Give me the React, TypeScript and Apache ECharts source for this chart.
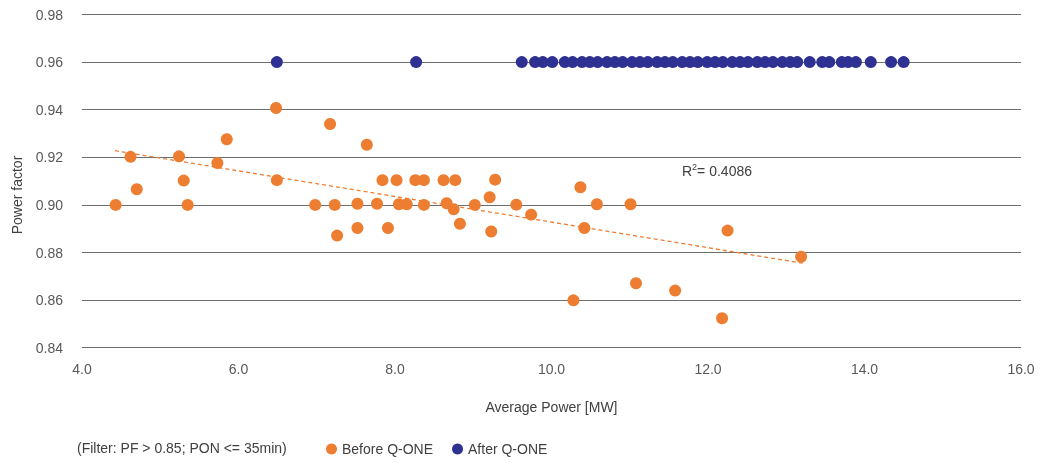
import React, { useEffect, useRef } from "react";
import * as echarts from "echarts";

const beforeQOne: [number, number][] = [
  [4.43, 0.9], [4.62, 0.9202], [4.7, 0.9066], [5.24, 0.9204], [5.3, 0.9102], [5.35, 0.9],
  [5.73, 0.9176], [5.85, 0.9276], [6.48, 0.9407], [6.49, 0.9104], [6.98, 0.9], [7.17, 0.934],
  [7.23, 0.9], [7.26, 0.8871], [7.52, 0.9005], [7.52, 0.8903], [7.64, 0.9253], [7.77, 0.9005],
  [7.84, 0.9104], [7.91, 0.8903], [8.02, 0.9104], [8.05, 0.9003], [8.15, 0.9003], [8.26, 0.9104],
  [8.37, 0.9104], [8.37, 0.9], [8.62, 0.9104], [8.66, 0.9007], [8.75, 0.8982], [8.77, 0.9104],
  [8.83, 0.8921], [9.02, 0.9], [9.21, 0.9032], [9.23, 0.8888], [9.28, 0.9106], [9.55, 0.9001],
  [9.74, 0.8959], [10.28, 0.8599], [10.37, 0.9074], [10.42, 0.8903], [10.58, 0.9003],
  [11.01, 0.9003], [11.08, 0.8671], [11.58, 0.864], [12.18, 0.8524], [12.25, 0.8892], [13.19, 0.8782],
];

const afterPowers: number[] = [
  6.49, 8.27, 9.62, 9.79, 9.89, 10.01, 10.17, 10.27, 10.39, 10.49, 10.59, 10.71, 10.81, 10.91,
  11.03, 11.13, 11.23, 11.35, 11.45, 11.55, 11.67, 11.77, 11.87, 11.99, 12.09, 12.19, 12.31,
  12.41, 12.51, 12.63, 12.73, 12.83, 12.95, 13.05, 13.14, 13.3, 13.46, 13.55, 13.71, 13.79,
  13.89, 14.08, 14.34, 14.5,
];
const afterPF = 0.96;

const trendX: number[] = [4.42, 13.23];
const trendY: number[] = [0.9228, 0.8754];

const xTicks = { min: 4, max: 16, interval: 2 };
const yTicks = { min: 0.84, max: 0.98, interval: 0.02 };

const ORANGE = "#ED7D31";
const BLUE = "#2E3192";
const NARROW = "'Liberation Sans Narrow', 'Liberation Sans', sans-serif";
const REG = "'Liberation Sans', sans-serif";

export default function App() {
  const ref = useRef<HTMLDivElement>(null);
  useEffect(() => {
    if (!ref.current) return;
    const chart = echarts.init(ref.current, undefined, { renderer: "svg" });
    chart.setOption({
      animation: false,
      grid: { left: 82, right: 29, top: 14.5, bottom: 115.3, containLabel: false },
      xAxis: {
        type: "value",
        min: xTicks.min,
        max: xTicks.max,
        interval: xTicks.interval,
        name: "Average Power [MW]",
        nameLocation: "middle",
        nameGap: 52,
        nameTextStyle: { color: "#404040", fontSize: 14, fontFamily: NARROW },
        axisLine: { show: false },
        axisTick: { show: false },
        splitLine: { show: false },
        axisLabel: {
          color: "#595959",
          fontSize: 14,
          fontFamily: NARROW,
          margin: 14,
          formatter: (v: number) => v.toFixed(1),
        },
      },
      yAxis: {
        type: "value",
        min: yTicks.min,
        max: yTicks.max,
        interval: yTicks.interval,
        axisLine: { show: false },
        axisTick: { show: false },
        splitLine: { show: true, lineStyle: { color: "#6e6e6e", width: 1 } },
        axisLabel: {
          color: "#595959",
          fontSize: 14,
          fontFamily: REG,
          margin: 19,
          formatter: (v: number) => v.toFixed(2),
        },
      },
      legend: {
        data: ["Before Q-ONE", "After Q-ONE"],
        left: 321,
        top: 437,
        icon: "circle",
        itemWidth: 11,
        itemHeight: 11,
        itemGap: 19,
        textStyle: { color: "#404040", fontSize: 14, fontFamily: NARROW },
      },
      graphic: [
        {
          type: "text",
          x: 77,
          y: 448,
          style: {
            text: "(Filter: PF > 0.85; PON <= 35min)",
            fill: "#404040",
            font: `14px ${NARROW}`,
            textVerticalAlign: "middle",
          },
        },
        {
          type: "text",
          x: 17,
          y: 195,
          rotation: Math.PI / 2,
          style: {
            text: "Power factor",
            fill: "#404040",
            font: `14px ${REG}`,
            textAlign: "center",
            textVerticalAlign: "middle",
          },
        },
        {
          type: "text",
          x: 682,
          y: 171,
          style: {
            rich: {
              a: { fontSize: 14, fontFamily: REG, fill: "#404040" },
              s: { fontSize: 9, fontFamily: REG, fill: "#404040", padding: [0, 0, 8, 0] },
            },
            text: "{a|R}{s|2}{a|= 0.4086}",
            textVerticalAlign: "middle",
          },
        },
      ],
      series: [
        {
          name: "Before Q-ONE",
          type: "scatter",
          symbolSize: 12,
          itemStyle: { color: ORANGE, opacity: 1 },
          data: beforeQOne,
          z: 3,
        },
        {
          name: "After Q-ONE",
          type: "scatter",
          symbolSize: 12,
          itemStyle: { color: BLUE, opacity: 1 },
          data: afterPowers.map((x) => [x, afterPF]),
          z: 3,
        },
        {
          name: "Trend",
          type: "line",
          symbol: "none",
          lineStyle: { color: ORANGE, type: [4, 3], width: 1.3 },
          data: trendX.map((x, i) => [x, trendY[i]]),
          z: 4,
        },
      ],
    });
    return () => chart.dispose();
  }, []);
  return (
    <div
      ref={ref}
      style={{ position: "fixed", left: 0, top: 0, width: 1050, height: 463 }}
    />
  );
}
